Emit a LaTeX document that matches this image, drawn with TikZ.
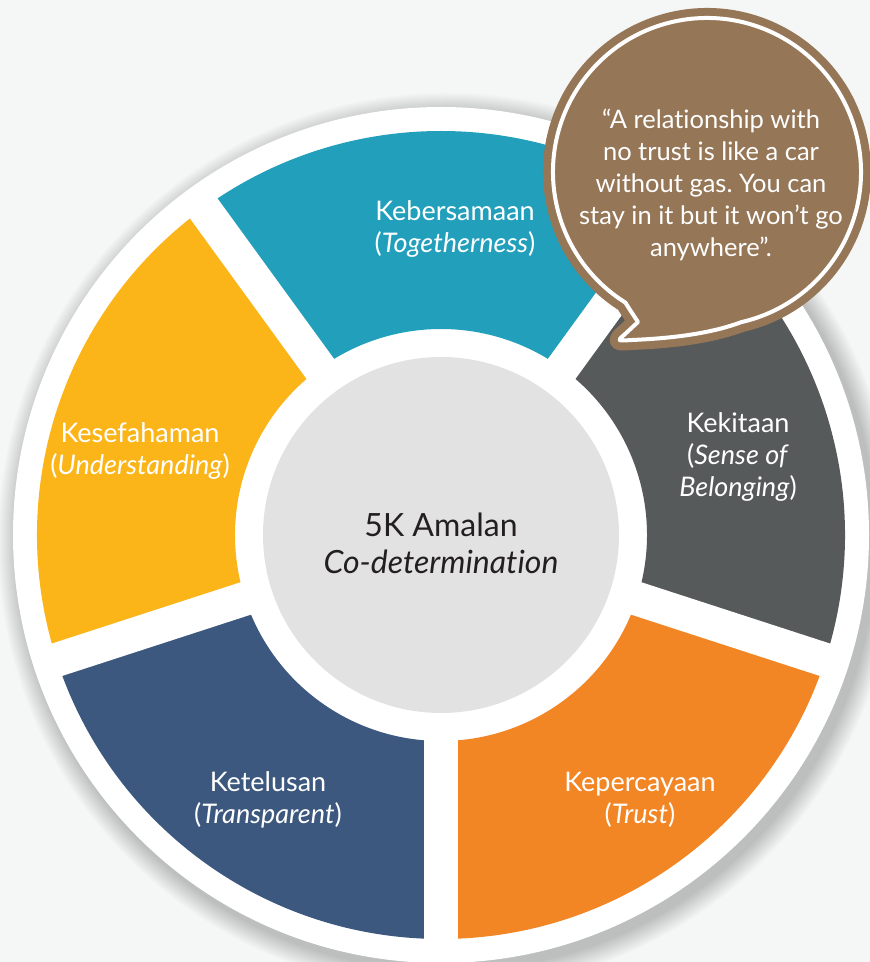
\documentclass[tikz,border=0pt]{standalone}
\usepackage{fontspec}
\setmainfont{Lato}[Ligatures=NoCommon]
\usepackage{tikz}
\usetikzlibrary{calc}
\frenchspacing
\definecolor{bggrey}{HTML}{F5F6F6}
\definecolor{ringteal}{HTML}{229FBB}
\definecolor{ringyellow}{HTML}{FBB519}
\definecolor{ringgrey}{HTML}{575A5B}
\definecolor{ringorange}{HTML}{F28524}
\definecolor{ringnavy}{HTML}{3D587E}
\definecolor{hubgrey}{HTML}{E2E2E2}
\definecolor{hubtext}{HTML}{231F20}
\definecolor{quotebrown}{HTML}{957657}
\tikzstyle{seglabel}=[text=white,align=center,inner sep=0pt,
                      font=\fontsize{27}{32}\selectfont]
\tikzstyle{hublabel}=[text=hubtext,align=center,inner sep=0pt,
                      font=\fontsize{32}{37}\selectfont]
\tikzstyle{quotelabel}=[text=white,align=center,inner sep=0pt,
                        font=\fontsize{25.5}{32}\selectfont]
\newcommand\twoline[2]{#1\\(\textit{#2})}
\newcommand\ringin{206}
\newcommand\ringout{404}
\newcommand\quotepath{($(q)+(283:154)$) coordinate (qs)
    arc[start angle=283,end angle=598,radius=154]
    .. controls (630,652) .. (638,640)
    -- (624,627) .. controls (617,621) .. (632,622)
    .. controls (680,624) and (715,630) .. (qs)}

\begin{document}
\begin{tikzpicture}[x=1pt,y=1pt]
    \clip (0,0) rectangle (870,962);
    \fill[bggrey] (0,0) rectangle (870,962);
    \coordinate (c) at (441,427);
    \coordinate (q) at (707,790);
    % soft shadow round the disk
    \foreach \i in {1,...,14}
        \fill[black,opacity=0.014] ($(c)+(6,-7)$) circle[radius=428+\i*1.5];
    \fill[white] (c) circle[radius=428];
    % ring segments
    \foreach \a/\col in {270/ringorange,342/ringgrey,54/ringteal,126/ringyellow,198/ringnavy}
        \fill[\col] ($(c)+(\a:\ringout)$) arc[start angle=\a,delta angle=72,radius=\ringout]
            -- ($(c)+(\a+72:\ringin)$) arc[start angle=\a+72,delta angle=-72,radius=\ringin] -- cycle;
    \foreach \a in {270,342,54,126,198}
        \draw[white,line width=34] (c) -- ($(c)+(\a:420)$);
    \fill[hubgrey] (c) circle[radius=178];

    \node[seglabel] (togetherness) at (455,733) {\twoline{Kebersamaan}{Togetherness}};
    \node[seglabel] (understanding) at (140,511) {\twoline{Kesefahaman}{Understanding}};
    \node[seglabel] (belonging) at (738,505) {Kekitaan\\(\textit{Sense of}\\\textit{Belonging})};
    \node[seglabel] (trust) at (640,162) {\twoline{Kepercayaan}{Trust}};
    \node[seglabel] (transparent) at (268,162) {\twoline{Ketelusan}{Transparent}};
    \node[hublabel] (hub) at (441,419) {5K Amalan\\\textit{Co-determination}};

    % speech bubble
    \fill[quotebrown,draw=quotebrown,line width=20,line join=round] \quotepath;
    \draw[white,line width=4,line join=round] \quotepath;
    \node[quotelabel] (quote) at (711,777) {“A relationship with\\no trust is like a car\\without gas. You can\\stay in it but it won’t go\\anywhere”.};
\end{tikzpicture}
\end{document}
